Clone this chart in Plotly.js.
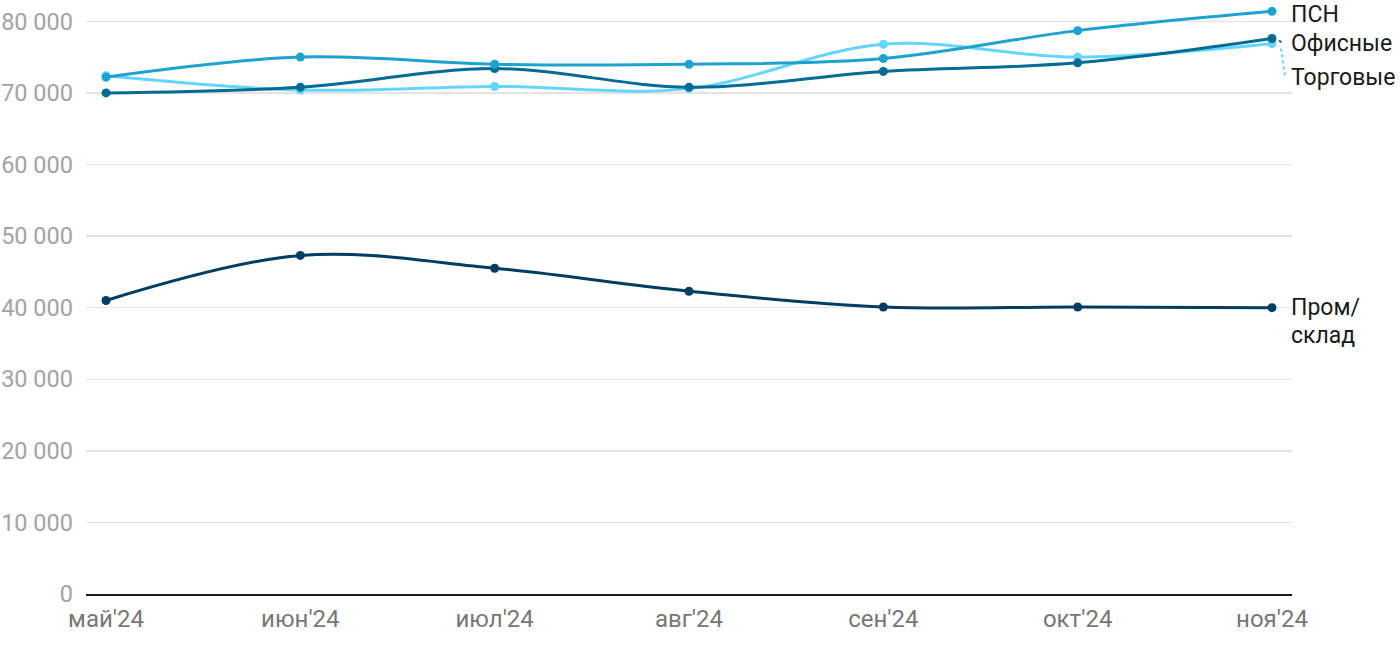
<!DOCTYPE html>
<html>
<head>
<meta charset="utf-8">
<script src="https://cdn.plot.ly/plotly-3.0.1.min.js"></script>
<style>html,body{margin:0;padding:0;background:#fff;}#chart{width:1400px;height:650px;}</style>
</head>
<body>
<div id="chart"></div>
<script>
const months = ["май'24", "июн'24", "июл'24", "авг'24", "сен'24", "окт'24", "ноя'24"];
const psn      = [72200, 75000, 74000, 74000, 74800, 78700, 81400];
const office   = [70000, 70800, 73400, 70800, 73000, 74200, 77600];
const retail   = [72400, 70400, 70900, 70600, 76800, 75000, 76900];
const industry = [41000, 47300, 45500, 42300, 40100, 40100, 40000];

const labels = ["ПСН", "Офисные", "Торговые", "Пром/", "склад"];
const colors = {psn: "#1ea2cf", office: "#036b94", retail: "#66d5fb", industry: "#003d63"};

function tr(y, color) {
  return {
    x: months, y: y, type: "scatter", mode: "lines+markers",
    line: {color: color, width: 3, shape: "spline", smoothing: 1},
    marker: {color: color, size: 9},
    hoverinfo: "skip", showlegend: false, cliponaxis: false
  };
}
const last = months.length - 1;
const data = [tr(industry, colors.industry), tr(retail, colors.retail), tr(office, colors.office), tr(psn, colors.psn)];

const labelFont = {family: "Roboto, sans-serif", size: 23, color: "#1a1a1a"};
function ann(text, y, yshift) {
  return {x: months[last], y: y, xref: "x", yref: "y", text: text, showarrow: false,
          xanchor: "left", yanchor: "middle", align: "left", xshift: 18, yshift: yshift,
          borderpad: 0, font: labelFont};
}
const annotations = [
  ann(labels[0], psn[last], -3),
  ann(labels[1], office[last], -5),
  ann(labels[2], retail[last], -34),
  ann(labels[3], industry[last], 0),
  ann(labels[4], industry[last], -28)
];

const shapes = [
  {type: "line", xref: "x", yref: "y", xsizemode: "pixel", ysizemode: "pixel",
   xanchor: months[last], yanchor: office[last], x0: 7, x1: 11, y0: -2, y1: -5,
   line: {color: colors.office, width: 2, dash: "dot"}},
  {type: "line", xref: "x", yref: "y", xsizemode: "pixel", ysizemode: "pixel",
   xanchor: months[last], yanchor: retail[last], x0: 9, x1: 13, y0: -5, y1: -33,
   line: {color: colors.retail, width: 2, dash: "dot"}}
];

const layout = {
  width: 1400, height: 650,
  margin: {l: 86, r: 108, t: 2, b: 56},
  paper_bgcolor: "#fff", plot_bgcolor: "#fff",
  separators: ", ",
  font: {family: "Roboto, sans-serif"},
  xaxis: {
    type: "category", range: [-0.103, 6.103],
    showgrid: false, zeroline: false,
    showline: true, linecolor: "#1a1a1a", linewidth: 2,
    ticks: "", tickfont: {size: 24, color: "#777777"}, ticklabelstandoff: 2,
    fixedrange: true
  },
  yaxis: {
    range: [0, 82700], tickvals: [0, 10000, 20000, 30000, 40000, 50000, 60000, 70000, 80000],
    tickformat: ",d", showgrid: true, gridcolor: "#e3e3e3", gridwidth: 1.5,
    zeroline: false, showline: false, ticks: "",
    tickfont: {size: 23.5, color: "#a3a3a3"}, ticklabelstandoff: 12,
    fixedrange: true
  },
  annotations: annotations,
  shapes: shapes,
  showlegend: false
};

Plotly.newPlot("chart", data, layout, {displayModeBar: false, staticPlot: true});
</script>
</body>
</html>
